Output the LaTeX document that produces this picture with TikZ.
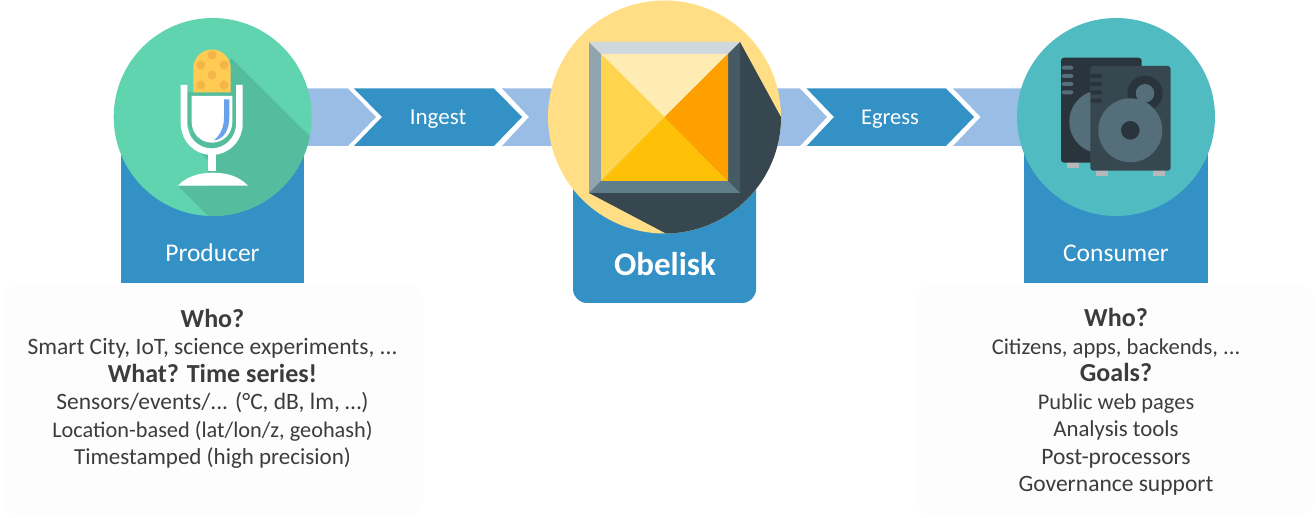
\documentclass[tikz,border=0pt]{standalone}
\usepackage{fontspec}
\setmainfont{Carlito}
\definecolor{boxblue}{HTML}{3391C5}
\definecolor{lightband}{HTML}{9ABDE5}
\definecolor{txt}{HTML}{3C3C3C}
\definecolor{micgreen}{HTML}{5FD4AE}
\definecolor{micshadow}{HTML}{55BD9D}
\definecolor{head}{HTML}{FFCB52}
\definecolor{headdot}{HTML}{F4B548}
\definecolor{micblue}{HTML}{6AA0EC}
\definecolor{obcircle}{HTML}{FFDE85}
\definecolor{obshadow}{HTML}{37474F}
\definecolor{frameleft}{HTML}{90A4AE}
\definecolor{frametop}{HTML}{CFD8DC}
\definecolor{frameright}{HTML}{455A64}
\definecolor{framebottom}{HTML}{607D8B}
\definecolor{triTop}{HTML}{FFECB3}
\definecolor{triRight}{HTML}{FFA000}
\definecolor{triBottom}{HTML}{FFC107}
\definecolor{triLeft}{HTML}{FFD54F}
\definecolor{spkteal}{HTML}{50BCC2}
\definecolor{spkdark}{HTML}{2A343C}
\definecolor{spkmid}{HTML}{546E7A}
\definecolor{spkfoot}{HTML}{B4B8BB}
\definecolor{panelgrey}{HTML}{FDFDFD}
\newcommand{\boldline}[1]{{\fontsize{26}{27.45}\selectfont\bfseries #1}}
\newcommand{\sized}[2]{{\fontsize{#1}{27.45}\selectfont #2}}
\tikzset{
  x=1pt,y=-1pt,
  boxlabel/.style={text=white,inner sep=0pt},
  infotext/.style={text=txt,font=\fontsize{23.5}{27.45}\selectfont,align=center,inner sep=0pt},
  disc/.style={circle,inner sep=0pt,minimum size=#1,outer sep=0pt},
  panel/.style={fill=panelgrey,rounded corners=16pt},
  bandlight/.style={fill=lightband},
  bandblue/.style={fill=boxblue},
}
\begin{document}
\begin{tikzpicture}
\useasboundingbox (0,0) rectangle (1316,518);
% info panels
\fill[panel] (2,285) rectangle (424,515);
\fill[panel] (917,285) rectangle (1314,515);
% chevrons
\fill[bandlight] (290,88.5) -- (348,88.5) -- (376,117) -- (348,146) -- (290,146) -- cycle;
\fill[bandblue] (354,88.5) -- (494,88.5) -- (522,117) -- (494,146) -- (354,146) -- (382,117) -- cycle;
\fill[bandlight] (502,88.5) -- (570,88.5) -- (570,146) -- (502,146) -- (529,117) -- cycle;
\fill[bandlight] (760,88.5) -- (800,88.5) -- (827,117) -- (800,146) -- (760,146) -- cycle;
\fill[bandblue] (806.7,88.5) -- (946,88.5) -- (974,117) -- (946,146) -- (806.7,146) -- (834,117) -- cycle;
\fill[bandlight] (953,88.5) -- (1040,88.5) -- (1040,146) -- (953,146) -- (980.7,117) -- cycle;
\node[boxlabel,font=\fontsize{23}{27}\selectfont] (ingest) at (438,119.5) {Ingest};
\node[boxlabel,font=\fontsize{22.5}{27}\selectfont] (egress) at (890,119) {Egress};
% blue boxes
\fill[boxblue] (121,140) rectangle (304,283.5);
\fill[boxblue] (1024,140) rectangle (1208,283.5);
\fill[boxblue,rounded corners=14pt] (573,150) rectangle (756,303);
\node[boxlabel,font=\fontsize{25.5}{28}\selectfont] (producer) at (212.5,253) {Producer};
\node[boxlabel,font=\fontsize{25.5}{28}\selectfont] (consumer) at (1116,253) {Consumer};
\node[boxlabel,font=\bfseries\fontsize{33}{36}\selectfont] (obelisk) at (665,264) {Obelisk};
% producer disc
\node[disc=198pt,fill=micgreen] (micdisc) at (212.7,117) {};
\begin{scope}
  \clip (212.7,117) circle[radius=99];
  \fill[micshadow] (231,58) -- (330,156) -- (330,240) -- (232,240) -- (178,186) -- (208,186) -- (208,160) -- (188,140) -- cycle;
\end{scope}
% microphone
\fill[micshadow] (187,92.3) -- (236,92.3) -- (236,122) -- (225,150) -- (198,150) -- (187,122) -- cycle;
\fill[head] (193.3,92.3) -- (193.3,68.2) arc[start angle=180,end angle=360,radius=18.7] -- (230.7,92.3) -- cycle;
\foreach \px/\py in {212/55,200.7/65,224/65,212/75,200.7/85,224/85}
  \fill[headdot] (\px,\py) circle[radius=4.5];
\fill[white] (191.7,96) -- (232.3,96) -- (232.3,122.4) arc[start angle=0,end angle=180,radius=20.3] -- cycle;
\fill[micblue] (224,99.3) -- (229.3,99.3) -- (229.3,117) .. controls (229.3,130) and (224,139) .. (214,140.5) .. controls (221,134) and (224,127) .. (224,117) -- cycle;
\draw[white,line width=6.6pt] (184,85) -- (184,123.7) arc[start angle=180,end angle=0,x radius=27.7,y radius=28] -- (239.4,85);
\fill[white] (208.3,152) rectangle (215.7,171);
\fill[white] (178,185.7) .. controls (186,177) and (198,172.7) .. (213,172.7) .. controls (228,172.7) and (240,177) .. (248,185.7) -- cycle;
% obelisk disc
\node[disc=233pt,fill=obcircle] (obdisc) at (664.5,117) {};
\begin{scope}
  \clip (664.5,117) circle[radius=116.5];
  \fill[obshadow] (740,42) -- (800,152) -- (800,260) -- (665,233) -- (589,193) -- cycle;
\end{scope}
\fill[frameleft] (589,42) -- (601,54) -- (601,181) -- (589,193) -- cycle;
\fill[frametop] (589,42) -- (740,42) -- (728,54) -- (601,54) -- cycle;
\fill[frameright] (740,42) -- (740,193) -- (728,181) -- (728,54) -- cycle;
\fill[framebottom] (589,193) -- (740,193) -- (728,181) -- (601,181) -- cycle;
\fill[triTop] (601,54) -- (728,54) -- (664.5,117) -- cycle;
\fill[triRight] (728,54) -- (728,181) -- (664.5,117) -- cycle;
\fill[triBottom] (601,181) -- (728,181) -- (664.5,117) -- cycle;
\fill[triLeft] (601,54) -- (601,181) -- (664.5,117) -- cycle;
% consumer disc
\node[disc=198pt,fill=spkteal] (spkdisc) at (1116,117) {};
\fill[spkfoot] (1067.3,162) rectangle (1079.3,168.3);
\fill[spkfoot] (1096.3,170) rectangle (1108.3,176.3);
\fill[spkfoot] (1152.7,170) rectangle (1164.7,176.3);
\fill[spkdark,rounded corners=3pt] (1061,57.7) rectangle (1141.7,162.7);
\foreach \sy in {67.7,76,84,92.3}
  \fill[spkmid,rounded corners=1.5pt] (1061.7,\sy-2) rectangle (1073.3,\sy+2);
\fill[spkmid] (1101,121.7) circle[radius=31.7];
\fill[obshadow,rounded corners=3pt] (1090.3,66) rectangle (1170.7,170.7);
\foreach \sy in {76,84,92.3,100.7}
  \fill[spkdark,rounded corners=1.5pt] (1090.3,\sy-2) rectangle (1102,\sy+2);
\fill[spkdark] (1145,93.3) circle[radius=17.7];
\fill[spkmid] (1145,93.3) circle[radius=9.3];
\fill[spkmid] (1130.3,130.3) circle[radius=32];
\fill[spkdark] (1130.3,130.3) circle[radius=9.3];
% info text
\node[infotext] (leftinfo) at (212.5,389) {\boldline{Who?}\\Smart City, IoT, science experiments, ...\\\boldline{What? Time series!}\\Sensors/events/... (°C, dB, lm, …)\\\sized{22.3}{Location-based (lat/lon/z, geohash)}\\\sized{23}{Timestamped (high precision)}};
\node[infotext] (rightinfo) at (1116,402) {\boldline{Who?}\\\sized{22.6}{Citizens, apps, backends, ...}\\\boldline{Goals?}\\\sized{22.4}{Public web pages}\\\sized{22.8}{Analysis tools}\\Post-processors\\Governance support};
\end{tikzpicture}
\end{document}
